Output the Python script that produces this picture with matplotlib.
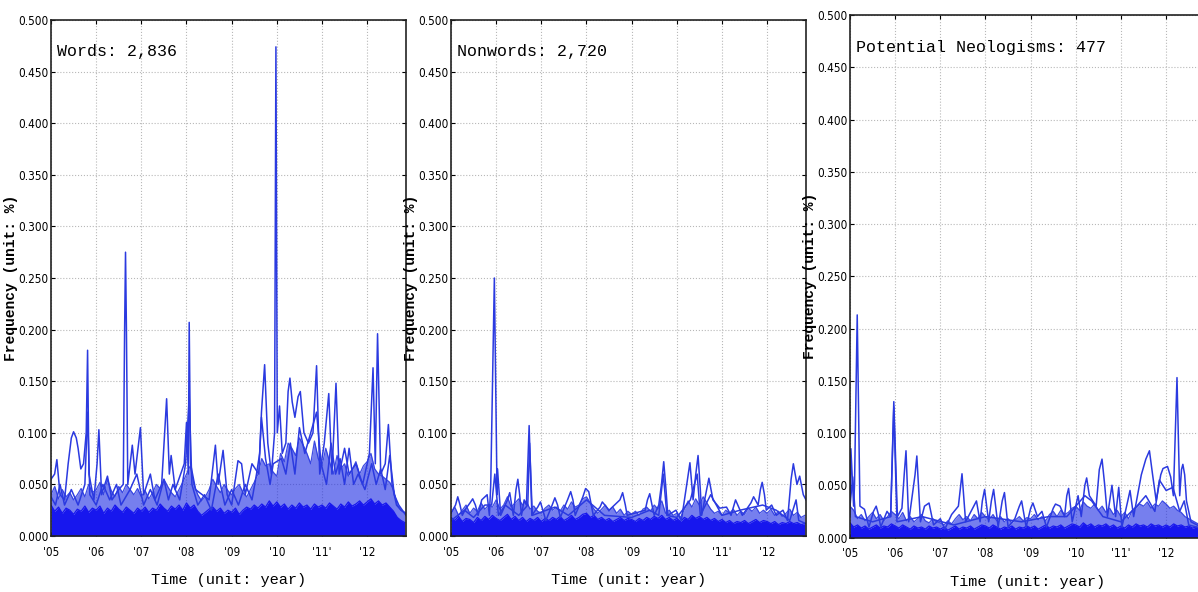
import matplotlib
matplotlib.use("Agg")
import matplotlib.pyplot as plt
from matplotlib import font_manager
import numpy as np

# ---- data ----
years = [2005, 2006, 2007, 2008, 2009, 2010, 2011, 2012]
year_labels = ["'05", "'06", "'07", "'08", "'09", "'10", "'11'", "'12"]
y_ticks = [0, 0.05, 0.10, 0.15, 0.20, 0.25, 0.30, 0.35, 0.40, 0.45, 0.50]
titles = ["Words: 2,836", "Nonwords: 2,720", "Potential Neologisms: 477"]
months = 2005 + np.arange(95) / 12  # monthly samples, Jan 2005 .. Nov 2012

# dense bottom mass (thousands of overlapping low lines)
words_floor = [
    0.030, 0.024, 0.028, 0.022, 0.027, 0.025, 0.021, 0.026, 0.024, 0.029, 0.023, 0.027,
    0.025, 0.029, 0.022, 0.027, 0.024, 0.030, 0.026, 0.023, 0.028, 0.025, 0.022, 0.027,
    0.024, 0.028, 0.023, 0.027, 0.025, 0.031, 0.027, 0.024, 0.029, 0.026, 0.030, 0.025,
    0.032, 0.027, 0.030, 0.024, 0.020, 0.023, 0.026, 0.028, 0.024, 0.027, 0.022, 0.025,
    0.023, 0.027, 0.021, 0.025, 0.028, 0.026, 0.030, 0.027, 0.031, 0.028, 0.034, 0.029,
    0.033, 0.028, 0.031, 0.026, 0.030, 0.027, 0.032, 0.028, 0.030, 0.026, 0.031, 0.028,
    0.030, 0.027, 0.032, 0.029, 0.026, 0.031, 0.028, 0.033, 0.029, 0.031, 0.034, 0.030,
    0.033, 0.036, 0.031, 0.034, 0.030, 0.032, 0.028, 0.024, 0.018, 0.015, 0.013]
words_mid = [
    0.040, 0.048, 0.036, 0.045, 0.038, 0.042, 0.035, 0.040, 0.046, 0.038, 0.050, 0.042,
    0.045, 0.052, 0.040, 0.055, 0.044, 0.038, 0.048, 0.042, 0.050, 0.045, 0.040, 0.046,
    0.038, 0.044, 0.036, 0.042, 0.050, 0.046, 0.055, 0.048, 0.042, 0.038, 0.045, 0.052,
    0.060, 0.068, 0.050, 0.040, 0.034, 0.038, 0.045, 0.055, 0.048, 0.042, 0.050, 0.044,
    0.040, 0.046, 0.050, 0.042, 0.038, 0.045, 0.052, 0.060, 0.075, 0.068, 0.070, 0.062,
    0.058, 0.080, 0.072, 0.090, 0.085, 0.078, 0.095, 0.088, 0.080, 0.070, 0.092, 0.075,
    0.068, 0.085, 0.072, 0.060, 0.078, 0.065, 0.070, 0.058, 0.064, 0.072, 0.060, 0.068,
    0.072, 0.080, 0.065, 0.060, 0.058, 0.055, 0.052, 0.045, 0.030, 0.025, 0.022]

nonwords_floor = [
    0.018, 0.015, 0.019, 0.014, 0.017, 0.016, 0.013, 0.018, 0.015, 0.019, 0.016, 0.020,
    0.017, 0.015, 0.018, 0.021, 0.016, 0.019, 0.015, 0.018, 0.014, 0.017, 0.015, 0.018,
    0.014, 0.017, 0.015, 0.018, 0.016, 0.019, 0.015, 0.017, 0.020, 0.016, 0.018, 0.021,
    0.022, 0.018, 0.020, 0.016, 0.018, 0.015, 0.017, 0.014, 0.016, 0.018, 0.015, 0.017,
    0.016, 0.014, 0.017, 0.015, 0.018, 0.016, 0.019, 0.017, 0.020, 0.016, 0.018, 0.015,
    0.017, 0.014, 0.018, 0.016, 0.020, 0.017, 0.019, 0.016, 0.018, 0.015, 0.017, 0.014,
    0.016, 0.013, 0.015, 0.012, 0.014, 0.013, 0.015, 0.012, 0.014, 0.016, 0.013, 0.015,
    0.014, 0.012, 0.014, 0.011, 0.013, 0.012, 0.014, 0.012, 0.013, 0.011, 0.012]
nonwords_mid = [
    0.022, 0.028, 0.020, 0.025, 0.030, 0.022, 0.027, 0.024, 0.032, 0.026, 0.030, 0.028,
    0.035, 0.026, 0.030, 0.038, 0.028, 0.032, 0.036, 0.030, 0.034, 0.026, 0.029, 0.024,
    0.022, 0.027, 0.030, 0.025, 0.028, 0.024, 0.030, 0.026, 0.033, 0.028, 0.030, 0.036,
    0.038, 0.032, 0.026, 0.022, 0.026, 0.030, 0.024, 0.028, 0.022, 0.026, 0.020, 0.024,
    0.021, 0.024, 0.020, 0.026, 0.028, 0.024, 0.030, 0.026, 0.034, 0.022, 0.025, 0.020,
    0.022, 0.018, 0.026, 0.034, 0.028, 0.036, 0.030, 0.038, 0.032, 0.026, 0.022, 0.024,
    0.020, 0.025, 0.022, 0.026, 0.020, 0.024, 0.021, 0.027, 0.024, 0.028, 0.022, 0.025,
    0.022, 0.026, 0.020, 0.024, 0.019, 0.022, 0.026, 0.020, 0.023, 0.018, 0.020]

neo_floor = [
    0.014, 0.010, 0.012, 0.009, 0.011, 0.008, 0.010, 0.012, 0.009, 0.011, 0.010, 0.013,
    0.011, 0.009, 0.012, 0.010, 0.008, 0.011, 0.009, 0.010, 0.008, 0.011, 0.009, 0.010,
    0.008, 0.010, 0.007, 0.009, 0.011, 0.008, 0.010, 0.009, 0.011, 0.008, 0.010, 0.012,
    0.011, 0.009, 0.012, 0.010, 0.008, 0.010, 0.009, 0.011, 0.008, 0.010, 0.009, 0.011,
    0.009, 0.011, 0.008, 0.010, 0.012, 0.009, 0.011, 0.010, 0.012, 0.009, 0.011, 0.013,
    0.012, 0.010, 0.014, 0.011, 0.013, 0.010, 0.012, 0.011, 0.013, 0.010, 0.012, 0.009,
    0.011, 0.009, 0.012, 0.010, 0.013, 0.011, 0.012, 0.010, 0.013, 0.011, 0.012, 0.010,
    0.012, 0.010, 0.013, 0.011, 0.012, 0.010, 0.011, 0.009, 0.010, 0.008, 0.009]
neo_mid = [
    0.030, 0.026, 0.018, 0.022, 0.016, 0.020, 0.024, 0.018, 0.022, 0.016, 0.020, 0.025,
    0.022, 0.018, 0.024, 0.016, 0.020, 0.015, 0.018, 0.022, 0.016, 0.014, 0.018, 0.015,
    0.014, 0.012, 0.016, 0.013, 0.018, 0.022, 0.017, 0.020, 0.016, 0.022, 0.018, 0.024,
    0.020, 0.017, 0.022, 0.016, 0.020, 0.015, 0.018, 0.014, 0.017, 0.020, 0.016, 0.019,
    0.018, 0.022, 0.017, 0.020, 0.016, 0.022, 0.025, 0.020, 0.026, 0.022, 0.024, 0.028,
    0.030, 0.026, 0.034, 0.030, 0.028, 0.032, 0.026, 0.030, 0.024, 0.028, 0.022, 0.026,
    0.020, 0.024, 0.018, 0.026, 0.028, 0.032, 0.030, 0.034, 0.028, 0.032, 0.030, 0.035,
    0.032, 0.028, 0.030, 0.026, 0.024, 0.020, 0.018, 0.016, 0.014, 0.012, 0.012]

# the visible spiky series, (time, frequency) vertices
words_spikes = [
    (2005.0, 0.055), (2005.08, 0.06), (2005.13, 0.074), (2005.2, 0.04), (2005.3, 0.035),
    (2005.38, 0.07), (2005.45, 0.095), (2005.5, 0.101), (2005.56, 0.095), (2005.6, 0.085),
    (2005.66, 0.065), (2005.72, 0.07), (2005.78, 0.10), (2005.81, 0.18), (2005.84, 0.06),
    (2005.95, 0.035), (2006.02, 0.07), (2006.06, 0.103), (2006.12, 0.04), (2006.25, 0.058),
    (2006.35, 0.035), (2006.5, 0.045), (2006.6, 0.05), (2006.63, 0.20), (2006.65, 0.275),
    (2006.67, 0.20), (2006.7, 0.05), (2006.8, 0.088), (2006.86, 0.06), (2006.9, 0.075),
    (2006.98, 0.105), (2007.05, 0.04), (2007.2, 0.06), (2007.3, 0.035), (2007.45, 0.05),
    (2007.56, 0.133), (2007.62, 0.06), (2007.66, 0.078), (2007.75, 0.045), (2007.95, 0.07),
    (2008.0, 0.11), (2008.04, 0.06), (2008.06, 0.207), (2008.09, 0.07), (2008.2, 0.045),
    (2008.35, 0.04), (2008.5, 0.035), (2008.64, 0.088), (2008.7, 0.05), (2008.81, 0.083),
    (2008.9, 0.04), (2009.0, 0.03), (2009.14, 0.073), (2009.22, 0.07), (2009.3, 0.04),
    (2009.45, 0.07), (2009.6, 0.06), (2009.66, 0.12), (2009.73, 0.166), (2009.8, 0.09),
    (2009.88, 0.06), (2009.95, 0.10), (2009.98, 0.474), (2010.01, 0.10), (2010.06, 0.126),
    (2010.12, 0.08), (2010.2, 0.09), (2010.25, 0.14), (2010.29, 0.153), (2010.34, 0.13),
    (2010.4, 0.115), (2010.47, 0.135), (2010.52, 0.14), (2010.6, 0.10), (2010.7, 0.09),
    (2010.8, 0.10), (2010.88, 0.165), (2010.95, 0.06), (2011.05, 0.09), (2011.15, 0.138),
    (2011.22, 0.06), (2011.31, 0.148), (2011.38, 0.06), (2011.5, 0.085), (2011.6, 0.06),
    (2011.75, 0.07), (2011.9, 0.05), (2012.05, 0.08), (2012.13, 0.163), (2012.18, 0.07),
    (2012.23, 0.196), (2012.3, 0.06), (2012.4, 0.07), (2012.47, 0.108), (2012.55, 0.05),
    (2012.65, 0.03), (2012.75, 0.025), (2012.86, 0.022)]
words_second = [
    (2005.0, 0.038), (2005.1, 0.03), (2005.2, 0.05), (2005.3, 0.03), (2005.45, 0.045),
    (2005.6, 0.03), (2005.75, 0.05), (2005.81, 0.12), (2005.86, 0.04), (2006.0, 0.03),
    (2006.15, 0.05), (2006.3, 0.035), (2006.45, 0.05), (2006.55, 0.03), (2006.75, 0.045),
    (2006.9, 0.06), (2007.05, 0.03), (2007.2, 0.045), (2007.35, 0.03), (2007.5, 0.055),
    (2007.6, 0.035), (2007.7, 0.05), (2007.85, 0.035), (2007.98, 0.07), (2008.06, 0.135),
    (2008.12, 0.05), (2008.25, 0.03), (2008.4, 0.04), (2008.55, 0.025), (2008.7, 0.06),
    (2008.85, 0.03), (2009.0, 0.045), (2009.15, 0.03), (2009.3, 0.05), (2009.45, 0.035),
    (2009.55, 0.06), (2009.62, 0.08), (2009.66, 0.115), (2009.75, 0.075), (2009.85, 0.05),
    (2009.92, 0.07), (2010.1, 0.075), (2010.2, 0.06), (2010.3, 0.09), (2010.4, 0.06),
    (2010.5, 0.105), (2010.62, 0.08), (2010.75, 0.10), (2010.88, 0.12), (2010.98, 0.07),
    (2011.1, 0.05), (2011.2, 0.09), (2011.3, 0.06), (2011.4, 0.075), (2011.5, 0.05),
    (2011.6, 0.085), (2011.7, 0.05), (2011.8, 0.06), (2011.95, 0.045), (2012.1, 0.07),
    (2012.2, 0.05), (2012.3, 0.065), (2012.4, 0.045), (2012.5, 0.078), (2012.6, 0.04),
    (2012.7, 0.03), (2012.86, 0.02)]

nonwords_spikes = [
    (2005.0, 0.022), (2005.1, 0.03), (2005.15, 0.038), (2005.2, 0.03), (2005.25, 0.02),
    (2005.32, 0.026), (2005.42, 0.032), (2005.48, 0.036), (2005.54, 0.03), (2005.6, 0.02),
    (2005.68, 0.035), (2005.8, 0.04), (2005.85, 0.02), (2005.88, 0.05), (2005.96, 0.25),
    (2006.02, 0.04), (2006.03, 0.065), (2006.1, 0.02), (2006.25, 0.035), (2006.3, 0.042),
    (2006.38, 0.02), (2006.44, 0.045), (2006.48, 0.055), (2006.52, 0.04), (2006.56, 0.02),
    (2006.62, 0.035), (2006.67, 0.03), (2006.73, 0.107), (2006.79, 0.02), (2006.92, 0.028),
    (2006.98, 0.033), (2007.1, 0.015), (2007.24, 0.03), (2007.3, 0.037), (2007.36, 0.03),
    (2007.42, 0.018), (2007.58, 0.035), (2007.65, 0.043), (2007.7, 0.035), (2007.75, 0.02),
    (2007.92, 0.038), (2007.98, 0.046), (2008.05, 0.043), (2008.15, 0.02), (2008.3, 0.028),
    (2008.35, 0.033), (2008.5, 0.025), (2008.74, 0.035), (2008.8, 0.042), (2008.86, 0.03),
    (2008.9, 0.02), (2009.3, 0.025), (2009.35, 0.035), (2009.4, 0.041), (2009.45, 0.03),
    (2009.5, 0.02), (2009.6, 0.03), (2009.66, 0.05), (2009.71, 0.072), (2009.76, 0.045),
    (2009.8, 0.02), (2009.98, 0.025), (2010.1, 0.015), (2010.22, 0.05), (2010.29, 0.071),
    (2010.36, 0.035), (2010.42, 0.06), (2010.47, 0.078), (2010.52, 0.045), (2010.55, 0.02),
    (2010.66, 0.045), (2010.71, 0.056), (2010.8, 0.035), (2010.95, 0.027), (2011.1, 0.028),
    (2011.2, 0.02), (2011.3, 0.035), (2011.45, 0.02), (2011.64, 0.032), (2011.7, 0.038),
    (2011.8, 0.03), (2011.85, 0.045), (2011.89, 0.052), (2011.94, 0.04), (2011.98, 0.025),
    (2012.1, 0.03), (2012.2, 0.02), (2012.35, 0.025), (2012.45, 0.015), (2012.53, 0.055),
    (2012.58, 0.07), (2012.66, 0.05), (2012.72, 0.058), (2012.8, 0.04), (2012.86, 0.035)]
nonwords_second = [
    (2005.0, 0.015), (2005.3, 0.025), (2005.5, 0.018), (2005.75, 0.03), (2005.9, 0.03),
    (2005.97, 0.06), (2006.05, 0.02), (2006.2, 0.03), (2006.5, 0.02), (2006.7, 0.03),
    (2006.74, 0.09), (2006.8, 0.02), (2007.3, 0.028), (2007.6, 0.02), (2008.0, 0.035),
    (2008.4, 0.02), (2009.0, 0.018), (2009.4, 0.025), (2009.6, 0.02), (2009.7, 0.06),
    (2009.78, 0.02), (2010.0, 0.018), (2010.3, 0.035), (2010.45, 0.06), (2010.52, 0.02),
    (2010.75, 0.04), (2011.0, 0.02), (2011.4, 0.025), (2011.9, 0.03), (2012.2, 0.025),
    (2012.5, 0.015), (2012.64, 0.035), (2012.7, 0.015), (2012.86, 0.012)]

neo_spikes = [
    (2005.0, 0.02), (2005.02, 0.085), (2005.08, 0.03), (2005.1, 0.05), (2005.16, 0.213),
    (2005.22, 0.03), (2005.32, 0.027), (2005.42, 0.01), (2005.52, 0.025), (2005.58, 0.03),
    (2005.63, 0.022), (2005.68, 0.01), (2005.82, 0.025), (2005.9, 0.02), (2005.97, 0.13),
    (2006.05, 0.02), (2006.15, 0.028), (2006.2, 0.06), (2006.24, 0.083), (2006.3, 0.015),
    (2006.44, 0.06), (2006.48, 0.078), (2006.56, 0.015), (2006.65, 0.03), (2006.75, 0.033),
    (2006.85, 0.012), (2007.0, 0.018), (2007.1, 0.008), (2007.25, 0.022), (2007.4, 0.03),
    (2007.48, 0.061), (2007.56, 0.015), (2007.74, 0.03), (2007.8, 0.035), (2007.88, 0.015),
    (2007.93, 0.035), (2007.98, 0.046), (2008.07, 0.015), (2008.13, 0.035), (2008.18, 0.046),
    (2008.28, 0.01), (2008.37, 0.035), (2008.42, 0.043), (2008.5, 0.01), (2008.65, 0.018),
    (2008.75, 0.03), (2008.8, 0.035), (2008.9, 0.01), (2009.0, 0.028), (2009.05, 0.033),
    (2009.15, 0.02), (2009.25, 0.025), (2009.35, 0.01), (2009.5, 0.028), (2009.55, 0.032),
    (2009.65, 0.03), (2009.75, 0.02), (2009.8, 0.04), (2009.84, 0.047), (2009.92, 0.015),
    (2010.05, 0.04), (2010.12, 0.02), (2010.2, 0.05), (2010.24, 0.057), (2010.3, 0.04),
    (2010.45, 0.03), (2010.52, 0.065), (2010.58, 0.075), (2010.64, 0.05), (2010.7, 0.02),
    (2010.8, 0.05), (2010.88, 0.02), (2010.95, 0.048), (2011.02, 0.01), (2011.15, 0.035),
    (2011.2, 0.045), (2011.28, 0.02), (2011.45, 0.06), (2011.55, 0.075), (2011.63, 0.083),
    (2011.7, 0.06), (2011.78, 0.035), (2011.88, 0.06), (2011.93, 0.066), (2012.03, 0.068),
    (2012.1, 0.058), (2012.16, 0.04), (2012.24, 0.153), (2012.3, 0.04), (2012.34, 0.065),
    (2012.37, 0.07), (2012.41, 0.06), (2012.45, 0.035), (2012.55, 0.015), (2012.86, 0.008)]
neo_second = [
    (2005.0, 0.03), (2005.06, 0.058), (2005.12, 0.02), (2005.5, 0.015), (2005.9, 0.02),
    (2005.97, 0.125), (2006.04, 0.015), (2006.6, 0.02), (2007.3, 0.012), (2008.0, 0.02),
    (2008.8, 0.015), (2009.4, 0.02), (2009.8, 0.02), (2010.0, 0.03), (2010.2, 0.04),
    (2010.35, 0.035), (2010.6, 0.02), (2011.0, 0.015), (2011.35, 0.03), (2011.55, 0.04),
    (2011.75, 0.025), (2011.85, 0.055), (2012.0, 0.045), (2012.15, 0.048), (2012.3, 0.025),
    (2012.4, 0.035), (2012.5, 0.012), (2012.86, 0.008)]

panels = [
    (words_floor, words_mid, [words_spikes, words_second]),
    (nonwords_floor, nonwords_mid, [nonwords_spikes, nonwords_second]),
    (neo_floor, neo_mid, [neo_spikes, neo_second]),
]

# ---- fonts: look for a narrow sans for the tick labels ----
def find_narrow():
    fonts = font_manager.fontManager.ttflist
    for f in fonts:
        if f.name == "Liberation Sans Narrow" and f.weight in (400, "normal") and f.style == "normal":
            return font_manager.FontProperties(fname=f.fname, size=10)
    for f in fonts:
        if f.name == "DejaVu Sans" and "Condensed" in f.fname and "Bold" not in f.fname \
                and "Oblique" not in f.fname:
            return font_manager.FontProperties(fname=f.fname, size=8.5)
    for f in fonts:
        if ("Condensed" in f.name or "Narrow" in f.name) and f.style == "normal" \
                and f.weight in (400, "normal"):
            return font_manager.FontProperties(fname=f.fname, size=9)
    return font_manager.FontProperties(family="Liberation Sans", size=8)

tick_fp = find_narrow()
mono = "Liberation Mono"

line_c = "#2b3ae0"
fill_c = "#1717ee"
band_c = "#2230e4"

fig = plt.figure(figsize=(11.98, 5.92), dpi=100)
rects = [
    [0.04257, 0.09459, 0.29633, 0.87162],
    [0.37646, 0.09459, 0.29633, 0.87162],
    [0.70951, 0.09206, 0.29633, 0.88260],
]

for rect, title, (floor, mid, spikes) in zip(rects, titles, panels):
    ax = fig.add_axes(rect)
    ax.fill_between(months, floor, mid, color=band_c, alpha=0.62, lw=0)
    ax.plot(months, mid, color=line_c, lw=0.9, alpha=0.9)
    ax.fill_between(months, 0, floor, color=fill_c, lw=0)
    ax.plot(months, floor, color=fill_c, lw=0.9)
    for s in spikes:
        t, v = zip(*s)
        ax.plot(t, v, color=line_c, lw=1.1)

    ax.set_xlim(2005, 2012.86)
    ax.set_ylim(0, 0.5)
    ax.set_xticks(years)
    ax.set_xticklabels(year_labels)
    ax.set_yticks(y_ticks)
    ax.set_yticklabels(["%.3f" % v for v in y_ticks])
    for lab in ax.get_xticklabels() + ax.get_yticklabels():
        lab.set_fontproperties(tick_fp)
    ax.tick_params(direction="in", length=3, width=0.8, top=True, right=True)
    ax.tick_params(axis="x", pad=7)
    ax.tick_params(axis="y", pad=2)
    ax.grid(True, color="#b8b8b8", linestyle=":", linewidth=0.8)
    ax.set_axisbelow(True)
    for sp in ax.spines.values():
        sp.set_linewidth(1.2)
        sp.set_color("#222222")

    ax.text(0.017, 0.938, title, transform=ax.transAxes, family=mono,
            fontsize=12, va="center", ha="left")
    ax.set_ylabel("Frequency (unit: %)", family=mono, fontweight="bold",
                  fontsize=10.5, va="center")
    ax.yaxis.set_label_coords(-0.112, 0.5)
    ax.set_xlabel("Time (unit: year)", family=mono, fontsize=11, va="center")
    ax.xaxis.set_label_coords(0.5, -0.085)

fig.savefig("out.png", dpi=100)
